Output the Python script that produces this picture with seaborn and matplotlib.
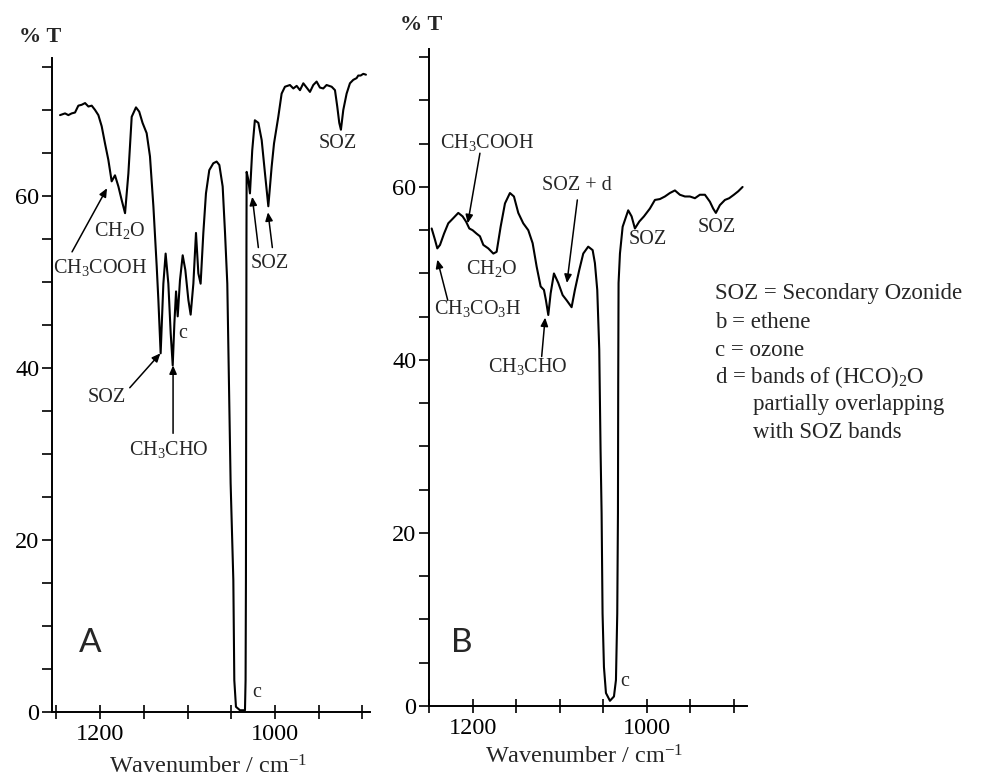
import pandas as pd
import matplotlib.pyplot as plt
import seaborn as sns

sns.set_style('ticks')
plt.rcParams['font.family'] = ['Liberation Serif', 'DejaVu Serif']
plt.rcParams['mathtext.default'] = 'regular'

# spectrum A (wavenumber, %T)
wn_a = [1245.7, 1240.0, 1236.2, 1232.4, 1228.6, 1224.8, 1221.0, 1217.1, 1213.3, 1209.5,
        1205.7, 1201.9, 1198.1, 1194.3, 1190.5, 1186.7, 1182.9, 1179.0, 1175.2, 1171.4,
        1167.6, 1163.8, 1158.9, 1155.2, 1151.4, 1146.7, 1142.9, 1139.0, 1135.2, 1133.3,
        1130.7, 1127.6, 1125.0, 1121.9, 1119.2, 1116.9, 1115.0, 1113.1, 1111.2, 1108.6,
        1105.5, 1102.5, 1099.0, 1096.4, 1093.3, 1090.3, 1087.6, 1085.0, 1081.9, 1078.9,
        1075.1, 1070.5, 1066.7, 1063.6, 1059.8, 1057.1, 1054.5, 1050.7, 1047.6, 1046.5,
        1044.6, 1040.0, 1034.3, 1033.6, 1033.2, 1032.9, 1032.6, 1032.4, 1030.5, 1028.6,
        1026.0, 1023.0, 1019.0, 1015.2, 1011.4, 1007.6, 1003.8, 1001.1, 996.2, 992.4,
        988.6, 982.9, 979.0, 975.2, 971.4, 967.6, 963.8, 960.0, 956.2, 952.4,
        948.6, 944.8, 941.0, 935.2, 931.4, 928.8, 926.5, 924.6, 921.9, 918.1,
        914.3, 910.5, 906.7, 904.8, 902.1, 899.0, 896.0]
t_a = [69.4, 69.6, 69.4, 69.6, 69.7, 70.5, 70.6, 70.8, 70.4, 70.5,
       70.0, 69.4, 68.1, 66.1, 64.2, 61.7, 62.4, 61.1, 59.5, 58.0,
       62.6, 69.2, 70.3, 69.8, 68.5, 67.3, 64.6, 58.8, 51.8, 47.9,
       41.7, 49.8, 53.3, 49.8, 44.0, 40.3, 45.2, 48.9, 46.0, 50.2,
       53.1, 51.4, 47.9, 46.2, 49.8, 55.7, 51.0, 49.8, 55.7, 60.3,
       63.0, 63.8, 64.0, 63.6, 61.1, 55.7, 49.8, 26.6, 15.3, 3.7,
       0.6, 0.2, 0.2, 3.7, 15.3, 35.0, 55.0, 62.8, 61.9, 60.3,
       65.3, 68.8, 68.5, 66.5, 62.6, 58.8, 63.4, 66.1, 69.2, 71.9,
       72.7, 72.9, 72.5, 72.8, 72.3, 73.1, 72.6, 72.1, 72.9, 73.3,
       72.6, 72.5, 72.9, 72.7, 72.3, 70.4, 68.5, 67.7, 70.0, 71.9,
       73.1, 73.5, 73.7, 74.0, 74.0, 74.2, 74.1]

# spectrum B (wavenumber, %T)
wn_b = [1247.5, 1243.7, 1241.0, 1237.9, 1233.3, 1228.4, 1222.6, 1216.9, 1211.9, 1208.0,
        1204.2, 1200.4, 1195.8, 1192.0, 1188.1, 1182.4, 1176.6, 1172.8, 1168.2, 1163.2,
        1157.5, 1152.9, 1147.9, 1142.2, 1136.4, 1131.4, 1126.8, 1122.2, 1118.4, 1116.1,
        1113.4, 1110.7, 1106.9, 1101.9, 1096.9, 1092.3, 1086.6, 1082.8, 1077.8, 1073.2,
        1067.5, 1062.4, 1059.8, 1057.1, 1054.8, 1053.3, 1052.1, 1051.0, 1049.4, 1047.1,
        1042.5, 1037.9, 1035.6, 1034.1, 1033.3, 1033.0, 1032.6, 1031.0, 1027.9, 1021.5,
        1017.6, 1013.8, 1008.8, 1003.4, 996.6, 990.8, 985.1, 979.3, 973.6, 967.8,
        962.1, 956.3, 950.6, 944.8, 939.1, 933.3, 927.6, 923.8, 920.7, 916.1,
        910.3, 905.4, 900.0, 895.0, 890.0]
t_b = [55.2, 53.9, 52.9, 53.3, 54.6, 55.8, 56.4, 57.0, 56.6, 56.0,
       55.2, 55.0, 54.6, 54.3, 53.3, 52.9, 52.3, 52.5, 55.4, 58.1,
       59.3, 58.9, 57.0, 55.8, 55.0, 53.5, 50.8, 48.5, 48.1, 46.9,
       45.2, 47.7, 50.0, 48.9, 47.5, 46.9, 46.1, 48.1, 50.4, 52.3,
       53.1, 52.7, 51.2, 48.1, 41.2, 29.6, 22.3, 10.7, 4.5, 1.5,
       0.6, 1.1, 3.0, 10.7, 22.3, 37.3, 48.9, 52.3, 55.4, 57.3,
       56.6, 55.2, 56.0, 56.6, 57.5, 58.5, 58.6, 58.9, 59.3, 59.6,
       59.1, 58.9, 58.9, 58.7, 59.1, 59.1, 58.3, 57.5, 57.0, 57.9,
       58.5, 58.7, 59.1, 59.5, 60.0]

x_ticks = [900, 950, 1000, 1050, 1100, 1150, 1200, 1250]
x_labels = ['', '', '1000', '', '', '', '1200', '']
y_ticks = list(range(0, 80, 5))
y_labels = [str(v) if v in (0, 20, 40, 60) else '' for v in y_ticks]

legend_lines = ['SOZ = Secondary Ozonide', 'b = ethene', 'c = ozone',
                'd = bands of (HCO)$_2$O', 'partially overlapping', 'with SOZ bands']

df_a = pd.DataFrame({'wn': wn_a, 'T': t_a})
df_b = pd.DataFrame({'wn': wn_b, 'T': t_b})

fig = plt.figure(figsize=(9.85, 7.77), dpi=100)
ax_a = fig.add_axes([0.0528, 0.0837, 0.3228, 0.8412])
ax_b = fig.add_axes([0.4355, 0.0914, 0.3228, 0.8461])

arrow = dict(arrowstyle='-|>,head_length=0.5,head_width=0.22', color='black', lw=1.1,
             shrinkA=0, shrinkB=0)

for ax, df, xl in [(ax_a, df_a, (1254.9, 891.4)), (ax_b, df_b, (1250.6, 885.0))]:
    sns.lineplot(data=df, x='wn', y='T', ax=ax, color='black', lw=1.5,
                 sort=False, estimator=None)
    ax.set_xlim(*xl)
    ax.set_ylim(0, 76)
    ax.set_xticks(x_ticks)
    ax.set_xticklabels(x_labels)
    ax.set_yticks(y_ticks)
    ax.set_yticklabels(y_labels)
    ax.tick_params(axis='both', labelsize=17.5, length=7, width=1.2, colors='black')
    ax.tick_params(axis='x', direction='inout', length=10)
    ax.tick_params(axis='y', pad=2)
    ax.set_xlabel('')
    ax.set_ylabel('')
    for s in ['left', 'bottom']:
        ax.spines[s].set_linewidth(1.4)
        ax.spines[s].set_color('black')
    sns.despine(ax=ax)
    ax.patch.set_alpha(0)

fs = 14.5
# panel A labels
ax_a.text(1177, 56, 'CH$_2$O', fontsize=fs, ha='center', va='center')
ax_a.text(1200, 51.7, 'CH$_3$COOH', fontsize=fs, ha='center', va='center')
ax_a.annotate('', xy=(1192, 60.9), xytext=(1232, 53.5), arrowprops=arrow)
ax_a.text(928, 66.1, 'SOZ', fontsize=fs, ha='center', va='center')
ax_a.text(1006, 52.2, 'SOZ', fontsize=fs, ha='center', va='center')
ax_a.annotate('', xy=(1026, 59.9), xytext=(1019, 54), arrowprops=arrow)
ax_a.annotate('', xy=(1008, 58.1), xytext=(1003, 54), arrowprops=arrow)
ax_a.text(1105, 44, 'c', fontsize=fs, ha='center', va='center')
ax_a.text(1192, 36.6, 'SOZ', fontsize=fs, ha='center', va='center')
ax_a.annotate('', xy=(1131, 41.7), xytext=(1166, 37.7), arrowprops=arrow)
ax_a.text(1121, 30.5, 'CH$_3$CHO', fontsize=fs, ha='center', va='center')
ax_a.annotate('', xy=(1116.5, 40.3), xytext=(1116.5, 32.4), arrowprops=arrow)
ax_a.text(1021, 2.3, 'c', fontsize=fs, ha='center', va='center')
ax_a.text(1211, 8, 'A', fontsize=24, ha='center', va='center', family='Lato')

# panel B labels
ax_b.text(1184, 65.1, 'CH$_3$COOH', fontsize=fs, ha='center', va='center')
ax_b.annotate('', xy=(1206, 55.8), xytext=(1192, 63.9), arrowprops=arrow)
ax_b.text(1080, 60.2, 'SOZ + d', fontsize=fs, ha='center', va='center')
ax_b.annotate('', xy=(1092, 48.9), xytext=(1080, 58.5), arrowprops=arrow)
ax_b.text(1178, 50.6, 'CH$_2$O', fontsize=fs, ha='center', va='center')
ax_b.text(999, 53.9, 'SOZ', fontsize=fs, ha='center', va='center')
ax_b.text(920, 55.3, 'SOZ', fontsize=fs, ha='center', va='center')
ax_b.text(1195, 46, 'CH$_3$CO$_3$H', fontsize=fs, ha='center', va='center')
ax_b.annotate('', xy=(1241, 51.6), xytext=(1229, 46.9), arrowprops=arrow)
ax_b.text(1137, 39.2, 'CH$_3$CHO', fontsize=fs, ha='center', va='center')
ax_b.annotate('', xy=(1117, 44.9), xytext=(1121, 40.4), arrowprops=arrow)
ax_b.text(1025, 2.8, 'c', fontsize=fs, ha='center', va='center')
ax_b.text(1213, 7.3, 'B', fontsize=24, ha='center', va='center', family='Lato')

# axis titles
fig.text(0.0406, 0.952, '% T', fontsize=16, ha='center', va='center', weight='bold')
fig.text(0.428, 0.968, '% T', fontsize=16, ha='center', va='center', weight='bold')
fig.text(0.211, 0.013, 'Wavenumber / cm$^{-1}$', fontsize=17.5, ha='center', va='center')
fig.text(0.593, 0.026, 'Wavenumber / cm$^{-1}$', fontsize=17.5, ha='center', va='center')

# key text
key_y = [293, 322, 350, 377, 405, 433]
for i, (line, py) in enumerate(zip(legend_lines, key_y)):
    px = 715 if i < 4 else 753
    fig.text(px / 985, 1 - py / 777, line, fontsize=16.5, ha='left', va='center')

fig.savefig('out.png', dpi=100)
